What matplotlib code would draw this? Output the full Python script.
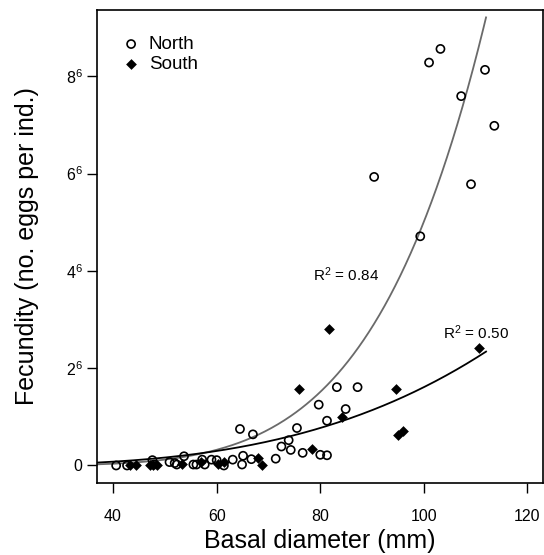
"""
Fecundity vs basal diameter, North and South populations,
with power-law fits drawn for each.
"""

import numpy as np
import matplotlib
matplotlib.use("Agg")
import matplotlib.pyplot as plt

# ── Data (fecundity in units of 10^6 eggs) ────────────────────────────────
north_diam = [40.6, 42.7, 47.6, 47.9, 50.9, 51.9, 52.3, 53.7, 55.5, 56.1,
              57.2, 57.7, 59.0, 60.0, 61.4, 63.1, 64.5, 64.9, 65.1, 66.7,
              67.0, 71.4, 72.5, 73.9, 74.3, 75.5, 76.6, 79.7, 80.0, 81.3,
              81.3, 83.2, 84.9, 87.2, 90.4, 99.3, 101.0, 103.2, 107.2, 109.1,
              111.8, 113.6]
north_fec = [0.00, 0.00, 0.11, 0.02, 0.07, 0.05, 0.02, 0.19, 0.02, 0.02,
             0.12, 0.02, 0.12, 0.11, 0.00, 0.12, 0.75, 0.02, 0.20, 0.13,
             0.64, 0.14, 0.39, 0.52, 0.32, 0.77, 0.26, 1.25, 0.22, 0.21,
             0.92, 1.61, 1.16, 1.61, 5.93, 4.71, 8.28, 8.56, 7.59, 5.78,
             8.13, 6.98]

south_diam = [43.2, 44.5, 47.1, 47.7, 48.4, 53.3, 56.9, 60.2, 61.4, 68.0,
              68.7, 75.9, 78.4, 81.6, 84.1, 94.7, 95.0, 95.9, 110.7]
south_fec = [0.00, 0.00, 0.02, 0.02, 0.02, 0.03, 0.07, 0.03, 0.07, 0.16,
             0.02, 1.57, 0.33, 2.80, 0.99, 1.58, 0.62, 0.70, 2.41]

# fitted curves: y = c * (x / 100) ** b
NORTH_FIT = (5.01, 5.37)
SOUTH_FIT = (1.61, 3.30)
FIT_XMAX = 112.0

y_ticks = [0, 2, 4, 6, 8]
y_tick_labels = ["0", "$2^{6}$", "$4^{6}$", "$6^{6}$", "$8^{6}$"]
x_ticks = [40, 60, 80, 100, 120]

# ── Style ─────────────────────────────────────────────────────────────────
plt.rcParams["font.family"] = ["Liberation Sans", "DejaVu Sans"]
plt.rcParams["mathtext.fontset"] = "custom"
plt.rcParams["mathtext.rm"] = "Liberation Sans"
plt.rcParams["mathtext.it"] = "Liberation Sans:italic"
plt.rcParams["mathtext.bf"] = "Liberation Sans:bold"

TICK_FONTSIZE = 11.5
LABEL_FONTSIZE = 18
XLIM = (36.9, 123.0)
YLIM = (-0.36, 9.36)


def main():
    fig = plt.figure(figsize=(5.44, 5.55), dpi=100)
    ax = fig.add_axes([0.1783, 0.1297, 0.8199, 0.8523])

    xs = np.linspace(XLIM[0], FIT_XMAX, 300)
    c, b = NORTH_FIT
    ax.plot(xs, c * (xs / 100) ** b, color="#6a6a6a", lw=1.3, zorder=2)
    c, b = SOUTH_FIT
    ax.plot(xs, c * (xs / 100) ** b, color="black", lw=1.3, zorder=2)

    ax.scatter(north_diam, north_fec, s=34, facecolors="none",
               edgecolors="black", linewidths=1.2, zorder=3, label="North")
    ax.scatter(south_diam, south_fec, s=30, marker="D", color="black",
               linewidths=0, zorder=3, label="South")

    ax.text(85.0, 3.92, "R$^{2}$ = 0.84", fontsize=11,
            ha="center", va="center")
    ax.text(110.0, 2.73, "R$^{2}$ = 0.50", fontsize=11,
            ha="center", va="center")

    ax.legend(loc="upper left", bbox_to_anchor=(0.005, 0.985), frameon=False,
              fontsize=13.5, handletextpad=0.25, labelspacing=0.15,
              borderaxespad=0.6, handlelength=1.4)

    ax.set_xlim(*XLIM)
    ax.set_ylim(*YLIM)
    ax.set_xticks(x_ticks)
    ax.set_yticks(y_ticks)
    ax.set_yticklabels(y_tick_labels)
    ax.tick_params(axis="both", direction="out", length=7.5, width=1.0,
                   labelsize=TICK_FONTSIZE)
    ax.tick_params(axis="x", pad=11)
    ax.tick_params(axis="y", pad=3)
    for sp in ax.spines.values():
        sp.set_linewidth(1.2)

    ax.set_xlabel("Basal diameter (mm)", fontsize=LABEL_FONTSIZE, labelpad=4)
    ax.set_ylabel("Fecundity (no. eggs per ind.)", fontsize=LABEL_FONTSIZE,
                  labelpad=19)

    fig.savefig("out.png", dpi=100)
    plt.close(fig)


if __name__ == "__main__":
    main()
